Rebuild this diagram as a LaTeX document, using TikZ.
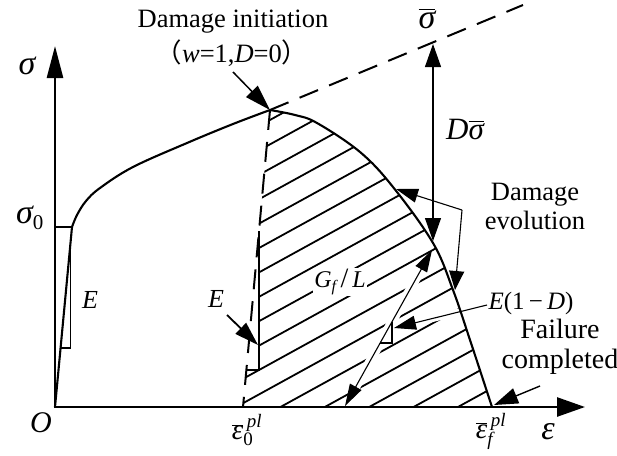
\documentclass[tikz,border=0pt]{standalone}
\usepackage{fontspec}
\setmainfont{Liberation Serif}
\newfontfamily\cjk{Noto Sans CJK SC}
\usetikzlibrary{arrows.meta}
\newcommand{\epsbar}[1]{$\overline{\mbox{\itshape ε}}^{\,\mbox{\fontsize{19}{19}\selectfont\itshape pl}}_{\mbox{\fontsize{19}{19}\selectfont #1}}$}
\begin{document}
\begin{tikzpicture}[x=1pt,y=-1pt,
  axisline/.style={line width=2.6pt},
  curveline/.style={line width=2.1pt},
  hatchline/.style={line width=1.8pt},
  dashline/.style={line width=2pt,dash pattern=on 20pt off 12pt},
  markerline/.style={line width=1.2pt},
  thinarrow/.style={line width=1.1pt,-{Triangle[length=22pt,width=14pt]}},
  thickarrow/.style={line width=1.8pt,-{Triangle[length=24pt,width=15pt]}},
  txt/.style={font=\fontsize{26.5}{29}\selectfont,inner sep=0pt,align=center},
  sym/.style={font=\fontsize{34}{34}\selectfont\itshape,inner sep=0pt},
  halo/.style={white,line width=9pt}]
\useasboundingbox (0,0) rectangle (617,455);
% key points
\coordinate (O) at (55,407);
\coordinate (Xend) at (585,407);
\coordinate (Yend) at (55,46);
\coordinate (Y0) at (72,227);
\coordinate (S0) at (55,227);
\coordinate (P) at (270,110);
\coordinate (Eff) at (523,5);
\coordinate (E0) at (243,407);
\coordinate (Ef) at (492,407);
\coordinate (Vt) at (259,231);
\coordinate (Vb) at (259,370);
\coordinate (Vh) at (246.4,370);
\coordinate (Ua) at (345,406);
\coordinate (Ub) at (432,250);
% hatching
\begin{scope}
  \clip (P) -- (Vt) -- (Vb) -- (Vh) -- (E0) -- (Ef) -- plot[smooth,tension=0.6] coordinates {(492,407) (470,340) (453,290) (433,243) (393,187) (360,152) (317,123) (295,115) (270,110)} -- cycle;
  \foreach \k in {-7,...,12}{
    \pgfmathsetmacro\c{248+24.4*\k}
    \draw[hatchline] (200,{\c+32.45}) -- (560,{\c-165.55});
  }
\end{scope}
% gaps in hatching
\draw[halo,shorten <=14pt,shorten >=14pt] (Ua) -- (Ub);
\coordinate (EDa) at (487,305);
\coordinate (EDb) at (394,328);
\draw[white,line width=7pt,shorten >=6pt] (EDa) -- (EDb);
\fill[white] (380,343) -- (392,343) -- (392,322) -- cycle;
% curves
\draw[curveline] (O) -- (Y0);
\draw[line width=1.6pt] (S0) -- (Y0);
\draw[curveline] plot[smooth,tension=0.6] coordinates {(72,227) (77,215) (86,201) (100,188) (133,167) (187,143) (233,124) (270,110)};
\draw[curveline] plot[smooth,tension=0.6] coordinates {(270,110) (295,115) (317,123) (360,152) (393,187) (433,243) (453,290) (470,340) (492,407)};
\draw[dashline] (P) -- (Eff);
\draw[dashline] (P) -- (E0);
\draw[curveline] (Vt) -- (Vb) -- (Vh);
\draw[markerline] (70.7,241) -- (70.7,348) -- (60.6,348);
\draw[markerline] (392,322) -- (392,343) -- (380,343);
% axes
\draw[axisline,{Triangle[length=32pt,width=16pt]}-{Triangle[length=28pt,width=19pt]}] (Yend) -- (O) -- (Xend);
% labels
\node[txt] (init) at (233,22) {Damage initiation};
\node[txt] (wd) at (232,53) {{\cjk （}\textit{w}=1,\textit{D}=0{\cjk ）}};
\node[sym] (sig) at (27,66) {σ};
\node[sym] (sig0) at (30,218) {$\mbox{\itshape σ}_{\mbox{\fontsize{21}{21}\selectfont\upshape 0}}$};
\node[sym,font=\fontsize{30}{30}\selectfont\itshape] (orig) at (41,423) {O};
\node[sym,font=\fontsize{26}{26}\selectfont\itshape] (Eleft) at (90,300) {E};
\node[sym,font=\fontsize{26}{26}\selectfont\itshape] (Emid) at (216,299) {E};
\node[sym,font=\fontsize{29}{29}\selectfont\itshape] (e0) at (247,430) {\epsbar{\upshape 0}};
\node[sym,font=\fontsize{29}{29}\selectfont\itshape] (ef) at (491,431) {\epsbar{\itshape f}};
\node[sym] (eps) at (548,432) {ε};
\node[sym] (sigbar) at (427,19) {$\overline{\mbox{\itshape σ}}$};
\node[sym,font=\fontsize{31}{31}\selectfont\itshape] (Dsig) at (465,129) {D$\overline{\mbox{\itshape σ}}$};
\node[sym,font=\fontsize{24}{24}\selectfont\itshape,fill=white,inner sep=1pt] (GfL) at (340,282) {G$_{\mbox{\fontsize{16}{16}\selectfont\itshape f}}$\,{\upshape\fontsize{28}{28}\selectfont/}\,L};
\node[txt] (devo) at (535,206) {Damage\\evolution};
\node[txt,font=\fontsize{25}{25}\selectfont] (E1D) at (531,303) {\textit{E}(1\,−\,\textit{D})};
\node[txt,font=\fontsize{28}{30}\selectfont] (fail) at (560,347) {Failure\\completed};
% connectors
\coordinate (Ia) at (233,72);
\draw[line width=1.5pt,-{Triangle[length=26pt,width=16pt]}] (Ia) -- (P);
\coordinate (Da) at (433,44);
\coordinate (Db) at (433,241);
\draw[line width=1.1pt,{Triangle[length=23pt,width=16pt]}-{Triangle[length=23pt,width=16pt]}] (Da) -- (Db);
\coordinate (DEc) at (462,210);
\coordinate (DE1) at (396,189);
\coordinate (DE2) at (455,290);
\draw[thinarrow] (DEc) -- (DE1);
\draw[line width=1.1pt,-{Triangle[length=19pt,width=15pt]}] (DEc) -- (DE2);
\draw[line width=1.1pt,{Triangle[length=22pt,width=13pt]}-{Triangle[length=22pt,width=13pt]}] (Ua) -- (Ub);
\draw[thinarrow] (EDa) -- (EDb);
\coordinate (Fa) at (540,386);
\coordinate (Ft) at (494,405);
\draw[line width=1.4pt,-{Triangle[length=24pt,width=16pt]}] (Fa) -- (Ft);
\coordinate (Ea) at (227,315);
\coordinate (Eb) at (258,345);
\draw[thickarrow] (Ea) -- (Eb);
\end{tikzpicture}
\end{document}
